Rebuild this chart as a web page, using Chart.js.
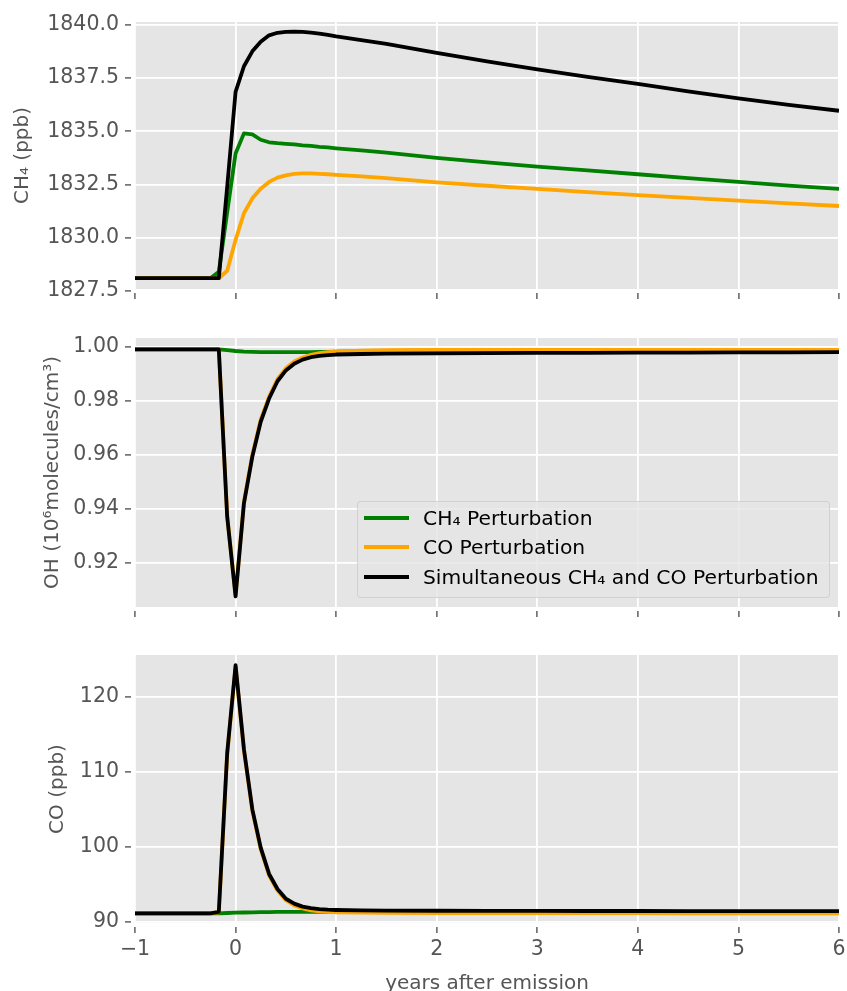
<!DOCTYPE html>
<html>
<head>
<meta charset="utf-8">
<script src="https://cdn.jsdelivr.net/npm/chart.js@4/dist/chart.umd.min.js"></script>
<style>
html,body{margin:0;padding:0;background:#fff;}
#wrap{position:relative;width:847px;height:991px;overflow:hidden;font-family:'DejaVu Sans',sans-serif;}
canvas{position:absolute;left:0;}
#legend{position:absolute;left:357px;top:501px;width:473px;height:97px;box-sizing:border-box;
  border:1px solid rgba(204,204,204,0.8);border-radius:4px;background:rgba(229,229,229,0.8);z-index:5;}
.row{position:absolute;left:0;height:24px;line-height:24px;width:100%;}
.handle{position:absolute;left:6px;top:10px;width:45px;height:4px;}
.lbl{position:absolute;left:65px;top:0;font-size:20.3px;color:#000;white-space:nowrap;}
</style>
</head>
<body>
<div id="wrap">
  <canvas id="c1" width="847" height="310" style="top:0px"></canvas>
  <canvas id="c2" width="847" height="330" style="top:310px"></canvas>
  <canvas id="c3" width="847" height="351" style="top:640px"></canvas>
  <div id="legend"></div>
</div>
<script>
// ---------------- data ----------------
const years = [-1, -0.5, -0.25, -0.1667, -0.0833, 0, 0.0833, 0.1667, 0.25, 0.3333, 0.4167, 0.5, 0.5833, 0.6667, 0.75, 0.8333, 0.9167, 1, 1.25, 1.5, 2, 2.5, 3, 3.5, 4, 4.5, 5, 5.5, 6];

const seriesLabels = ['CH\u2084 Perturbation', 'CO Perturbation', 'Simultaneous CH\u2084 and CO Perturbation'];
const seriesColors = ['#008000', '#FFA500', '#000000'];

// CH4 (ppb)
const ch4_ch4Pert = [1828.1, 1828.1, 1828.1, 1828.4, 1831.2, 1833.95, 1834.9, 1834.85, 1834.6, 1834.48, 1834.44, 1834.41, 1834.38, 1834.34, 1834.31, 1834.27, 1834.24, 1834.2, 1834.1, 1834.0, 1833.75, 1833.54, 1833.34, 1833.16, 1832.98, 1832.8, 1832.62, 1832.45, 1832.29];
const ch4_coPert  = [1828.1, 1828.1, 1828.1, 1828.1, 1828.45, 1829.9, 1831.15, 1831.85, 1832.3, 1832.62, 1832.82, 1832.93, 1833.0, 1833.02, 1833.02, 1833.0, 1832.98, 1832.95, 1832.88, 1832.8, 1832.6, 1832.44, 1832.29, 1832.14, 1832.0, 1831.87, 1831.74, 1831.61, 1831.49];
const ch4_both    = [1828.1, 1828.1, 1828.1, 1828.1, 1832.4, 1836.85, 1838.05, 1838.75, 1839.2, 1839.5, 1839.62, 1839.66, 1839.67, 1839.66, 1839.63, 1839.58, 1839.52, 1839.45, 1839.28, 1839.1, 1838.68, 1838.28, 1837.9, 1837.55, 1837.22, 1836.87, 1836.54, 1836.24, 1835.96];

// OH (10^6 molecules/cm^3)
const oh_ch4Pert = [0.9990, 0.9990, 0.9990, 0.9990, 0.9987, 0.9984, 0.9982, 0.9981, 0.9980, 0.9980, 0.9980, 0.9980, 0.9980, 0.9980, 0.9980, 0.9981, 0.9981, 0.9982, 0.9983, 0.9984, 0.9985, 0.9986, 0.9986, 0.9987, 0.9987, 0.9987, 0.9987, 0.9988, 0.9988];
const oh_coPert  = [0.9990, 0.9990, 0.9990, 0.9990, 0.9375, 0.9078, 0.9425, 0.9600, 0.9730, 0.9815, 0.9880, 0.9920, 0.9945, 0.9960, 0.9970, 0.9976, 0.9980, 0.9982, 0.9985, 0.9987, 0.9988, 0.9988, 0.9988, 0.9988, 0.9988, 0.9988, 0.9988, 0.9988, 0.9988];
const oh_both    = [0.9990, 0.9990, 0.9990, 0.9990, 0.9370, 0.9075, 0.9420, 0.9593, 0.9722, 0.9808, 0.9872, 0.9912, 0.9937, 0.9952, 0.9961, 0.9966, 0.9969, 0.9971, 0.9973, 0.9974, 0.9975, 0.9976, 0.9977, 0.9977, 0.9978, 0.9978, 0.9979, 0.9979, 0.9980];

// CO (ppb)
const co_ch4Pert = [91.16, 91.16, 91.16, 91.16, 91.2, 91.24, 91.27, 91.29, 91.31, 91.33, 91.34, 91.35, 91.35, 91.35, 91.35, 91.35, 91.35, 91.35, 91.35, 91.35, 91.34, 91.34, 91.34, 91.33, 91.33, 91.33, 91.33, 91.32, 91.32];
const co_coPert  = [91.16, 91.16, 91.16, 91.3, 112.3, 124.0, 112.8, 104.8, 99.7, 96.2, 94.2, 92.9, 92.2, 91.8, 91.55, 91.42, 91.35, 91.3, 91.24, 91.21, 91.2, 91.19, 91.19, 91.18, 91.18, 91.17, 91.17, 91.17, 91.17];
const co_both    = [91.16, 91.16, 91.16, 91.35, 112.5, 124.2, 113.0, 105.0, 99.9, 96.4, 94.4, 93.1, 92.45, 92.05, 91.85, 91.72, 91.64, 91.6, 91.55, 91.52, 91.5, 91.49, 91.48, 91.47, 91.47, 91.46, 91.46, 91.45, 91.45];

// tick labels
const yearTicks = [-1, 0, 1, 2, 3, 4, 5, 6];
const ch4Ticks = [1827.5, 1830.0, 1832.5, 1835.0, 1837.5, 1840.0];
const ohTicks = [0.92, 0.94, 0.96, 0.98, 1.00];
const coTicks = [90, 100, 110, 120];

// ---------------- drawing ----------------
Chart.defaults.font.family = "'DejaVu Sans', sans-serif";

const bgPlugin = {
  id: 'ggbg',
  beforeDraw(chart) {
    const {ctx, chartArea: a} = chart;
    ctx.save();
    ctx.fillStyle = '#E5E5E5';
    ctx.fillRect(a.left, a.top, a.right - a.left, a.bottom - a.top);
    ctx.restore();
  }
};

function fmtYear(v) { return v < 0 ? '\u2212' + Math.abs(v) : String(v); }

function makePanel(id, series, opt) {
  const datasets = series.map((vals, i) => ({
    label: seriesLabels[i],
    data: years.map((x, j) => ({x: x, y: vals[j]})),
    borderColor: seriesColors[i],
    backgroundColor: seriesColors[i],
    borderWidth: 3.8,
    pointRadius: 0,
    tension: 0,
    fill: false,
    borderJoinStyle: 'round',
    order: 3 - i
  }));
  return new Chart(document.getElementById(id), {
    type: 'line',
    data: {datasets},
    plugins: [bgPlugin],
    options: {
      responsive: false,
      animation: false,
      devicePixelRatio: 1,
      layout: {padding: {top: opt.padTop, right: 8, bottom: 0, left: 0}},
      plugins: {legend: {display: false}, tooltip: {enabled: false}},
      scales: {
        x: {
          type: 'linear', min: -1, max: 6, bounds: 'data',
          afterBuildTicks: s => { s.ticks = yearTicks.map(v => ({value: v})); },
          afterFit: s => { s.height = opt.xHeight; s.paddingLeft = 0; s.paddingRight = 0; },
          border: {display: false},
          grid: {color: '#FFFFFF', lineWidth: 1.8, drawTicks: true, tickLength: 10,
                 tickColor: '#555555', tickWidth: 1.4, tickBorderDash: [0, 4, 6, 10]},
          ticks: {display: opt.showX, autoSkip: false, padding: 4, color: '#555555',
                  font: {size: 20.5}, callback: v => fmtYear(v)},
          title: {display: !!opt.xTitle, text: opt.xTitle || '', color: '#555555',
                  font: {size: 20, lineHeight: 0.7}, padding: {top: 0, bottom: 0}}
        },
        y: {
          type: 'linear', min: opt.yMin, max: opt.yMax, bounds: 'data',
          afterBuildTicks: s => { s.ticks = opt.yTicks.map(v => ({value: v})); },
          afterFit: s => { s.width = 135; s.paddingTop = 0; s.paddingBottom = 0; },
          border: {display: false},
          grid: {color: '#FFFFFF', lineWidth: 1.8, drawTicks: true, tickLength: 10,
                 tickColor: '#555555', tickWidth: 1.4, tickBorderDash: [6, 4]},
          ticks: {autoSkip: false, padding: 6, color: '#555555', font: {size: 20.5},
                  callback: v => opt.yFmt(v)},
          title: {display: true, text: opt.yTitle, color: '#555555',
                  font: {size: 20}, padding: {top: opt.yTitlePad, bottom: 0}}
        }
      }
    }
  });
}

makePanel('c1', [ch4_ch4Pert, ch4_coPert, ch4_both], {
  padTop: 22, xHeight: 21, showX: false,
  yMin: 1827.594, yMax: 1840.127, yTicks: ch4Ticks, yFmt: v => v.toFixed(1),
  yTitle: 'CH\u2084 (ppb)', yTitlePad: 10.6
});
makePanel('c2', [oh_ch4Pert, oh_coPert, oh_both], {
  padTop: 28, xHeight: 33, showX: false,
  yMin: 0.90359, yMax: 1.00322, yTicks: ohTicks, yFmt: v => v.toFixed(2),
  yTitle: 'OH (10\u2076molecules/cm\u00B3)', yTitlePad: 40.6
});
makePanel('c3', [co_ch4Pert, co_coPert, co_both], {
  padTop: 15, xHeight: 68, showX: true, xTitle: 'years after emission',
  yMin: 89.87, yMax: 125.55, yTicks: coTicks, yFmt: v => String(v),
  yTitle: 'CO (ppb)', yTitlePad: 46.1
});

// legend (HTML, built from the series arrays)
const legend = document.getElementById('legend');
const rowCenters = [17, 46, 76];
seriesLabels.forEach((lab, i) => {
  const row = document.createElement('div');
  row.className = 'row';
  row.style.top = (rowCenters[i] - 12 - 1) + 'px';
  const h = document.createElement('div');
  h.className = 'handle';
  h.style.background = seriesColors[i];
  const t = document.createElement('div');
  t.className = 'lbl';
  t.textContent = lab;
  row.appendChild(h);
  row.appendChild(t);
  legend.appendChild(row);
});
</script>
</body>
</html>
